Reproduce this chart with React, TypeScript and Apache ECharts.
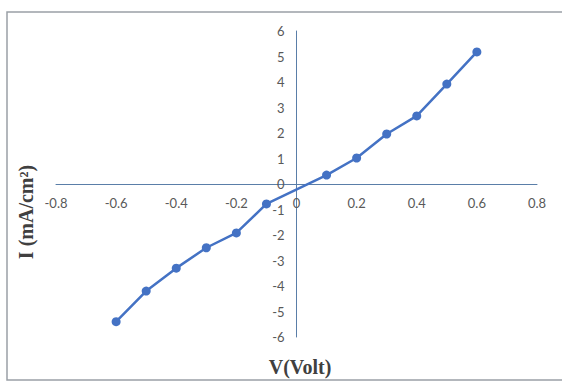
import React, { useEffect, useRef } from "react";
import * as echarts from "echarts";

const voltage = [-0.6, -0.5, -0.4, -0.3, -0.2, -0.1, 0.1, 0.2, 0.3, 0.4, 0.5, 0.6];
const current = [-5.4, -4.2, -3.3, -2.5, -1.92, -0.78, 0.35, 1.02, 1.96, 2.67, 3.92, 5.18];
const xTitle = "V(Volt)";
const yTitle = "I (mA/cm²)";

export default function App() {
  const ref = useRef<HTMLDivElement>(null);
  useEffect(() => {
    const chart = echarts.init(ref.current!, null, { renderer: "svg" });
    const axisColor = "#5a7ea8";
    const labelColor = "#595959";
    const font = "Lato, 'Open Sans', sans-serif";
    const gridLeft = 56;
    const gridRight = 25;
    const gridTop = 31;
    const gridBottom = 48;
    const gridW = 562 - gridLeft - gridRight;
    const gridH = 385 - gridTop - gridBottom;
    chart.setOption({
      animation: false,
      backgroundColor: "#ffffff",
      grid: { left: gridLeft, right: gridRight, top: gridTop, bottom: gridBottom, containLabel: false },
      xAxis: {
        type: "value",
        position: "bottom",
        offset: -gridH / 2,
        min: -0.8,
        max: 0.8,
        interval: 0.2,
        axisLine: { onZero: false, lineStyle: { color: axisColor, width: 1 } },
        axisTick: { show: false },
        splitLine: { show: false },
        axisLabel: {
          color: labelColor,
          fontSize: 13,
          fontFamily: font,
          margin: 12,
          formatter: (v: number) => String(Math.round(v * 10) / 10),
        },
      },
      yAxis: {
        type: "value",
        position: "left",
        offset: -gridW / 2,
        min: -6,
        max: 6,
        interval: 1,
        axisLine: { onZero: false, lineStyle: { color: axisColor, width: 1 } },
        axisTick: { show: false },
        splitLine: { show: false },
        axisLabel: { color: labelColor, fontSize: 13, fontFamily: font, margin: 12 },
      },
      series: [
        {
          type: "line",
          data: voltage.map((v, i) => [v, current[i]]),
          symbol: "circle",
          symbolSize: 9,
          lineStyle: { color: "#4472c4", width: 2.5 },
          itemStyle: { color: "#4472c4" },
          z: 3,
        },
      ],
      graphic: [
        {
          type: "rect",
          shape: { x: 7, y: 12, width: 570, height: 368 },
          style: { fill: "none", stroke: "#9aa0a6", lineWidth: 1.5 },
          silent: true,
        },
        {
          type: "text",
          x: 300,
          y: 367,
          style: {
            text: xTitle,
            font: "bold 20px 'Liberation Serif', 'Times New Roman', serif",
            fill: "#404040",
            align: "center",
            verticalAlign: "middle",
          },
        },
        {
          type: "text",
          x: 26,
          y: 212,
          rotation: Math.PI / 2,
          style: {
            text: yTitle,
            font: "bold 20px 'Liberation Serif', 'Times New Roman', serif",
            fill: "#404040",
            align: "center",
            verticalAlign: "middle",
          },
        },
      ],
    });
    return () => chart.dispose();
  }, []);
  return (
    <div
      ref={ref}
      style={{ position: "fixed", left: 0, top: 0, width: 562, height: 385 }}
    />
  );
}
